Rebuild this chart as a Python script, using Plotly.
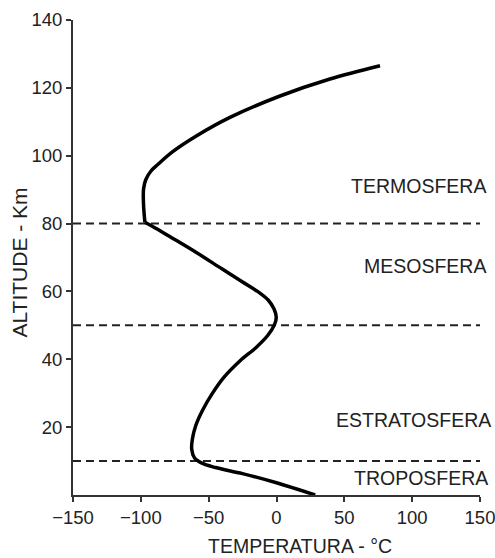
import plotly.graph_objects as go

# Mean temperature profile of the atmosphere (temperature in °C, altitude in km).
# The profile has a sharp corner at the mesopause, so it is drawn in two pieces
# that share that point.
temperature_low = [28.5, 0, -25, -45, -55, -60.5, -62.5, -62, -59.5, -54.5, -47.5,
                   -38.5, -27, -15, -6.5, -1.5, -0.2, -1.8, -6, -14, -25, -40,
                   -58.8, -75, -88, -97]
altitude_low = [0, 3.6, 6.3, 8.1, 9.4, 11, 13.5, 16.5, 20.5, 25, 29.8,
                34.8, 39.5, 43.5, 47, 50.2, 52.4, 54.8, 57.4, 60, 62.8, 66.6,
                71.4, 75.3, 78.4, 80.4]

temperature_high = [-97, -98, -98, -96.3, -92.5, -87.5, -76.5, -58.8, -34.3, 2.6,
                    39.4, 76.3]
altitude_high = [80.4, 85.5, 90.2, 93, 95.5, 97.4, 101.2, 105.9, 111.3, 117.6,
                 122.6, 126.5]

# Layer boundaries (km) and layer names
boundaries = [80, 50, 10]
layer_names = ["TERMOSFERA", "MESOSFERA", "ESTRATOSFERA", "TROPOSFERA"]
layer_label_alt = [91.2, 67.4, 22, 5.1]
layer_label_right = [1.0197, 1.0197, 1.032, 1.0246]

x_ticks = [-150, -100, -50, 0, 50, 100, 150]
y_ticks = [20, 40, 60, 80, 100, 120, 140]

FONT = "Liberation Sans, Arial, Helvetica, sans-serif"
INK = "#222222"

fig = go.Figure()

for b in boundaries:
    fig.add_trace(go.Scatter(
        x=[-150, 150], y=[b, b], mode="lines",
        line=dict(color=INK, width=2, dash="8px,5px"),
        hoverinfo="skip", showlegend=False, cliponaxis=False,
    ))

for xs, ys in ((temperature_low, altitude_low), (temperature_high, altitude_high)):
    fig.add_trace(go.Scatter(
        x=xs, y=ys, mode="lines",
        line=dict(color="#000000", width=3.5, shape="spline", smoothing=1.0),
        showlegend=False,
    ))

for name, alt, xr in zip(layer_names, layer_label_alt, layer_label_right):
    fig.add_annotation(
        x=xr, xref="paper", y=alt, yref="y", text=name, showarrow=False,
        xanchor="right", yanchor="middle",
        font=dict(family=FONT, size=19.5, color=INK),
    )

# Axis titles
fig.add_annotation(
    x=(300 - 73) / (480 - 73), xref="paper", y=-(558 - 495) / 475, yref="paper",
    text="TEMPERATURA - °C", showarrow=False, xanchor="center", yanchor="bottom",
    font=dict(family=FONT, size=19.5, color=INK), borderpad=0,
)
fig.add_annotation(
    x=-0.132, xref="paper", y=0.49, yref="paper",
    text="ALTITUDE - Km", showarrow=False, textangle=-90,
    xanchor="center", yanchor="middle",
    font=dict(family=FONT, size=21, color=INK),
)

axis_common = dict(
    showline=True, linecolor="#333333", linewidth=2,
    ticks="outside", ticklen=5, tickwidth=2, tickcolor="#333333",
    showgrid=False, zeroline=False,
    tickfont=dict(family=FONT, size=18.5, color=INK),
    ticklabeloverflow="allow", automargin=False,
)

fig.update_xaxes(range=[-150, 150], tickvals=x_ticks, **axis_common)
fig.update_yaxes(range=[0, 140], tickvals=y_ticks, **axis_common)

fig.update_layout(
    width=495, height=558,
    margin=dict(l=73, r=15, t=20, b=63),
    plot_bgcolor="white", paper_bgcolor="white",
)

fig.write_html("out.html")
